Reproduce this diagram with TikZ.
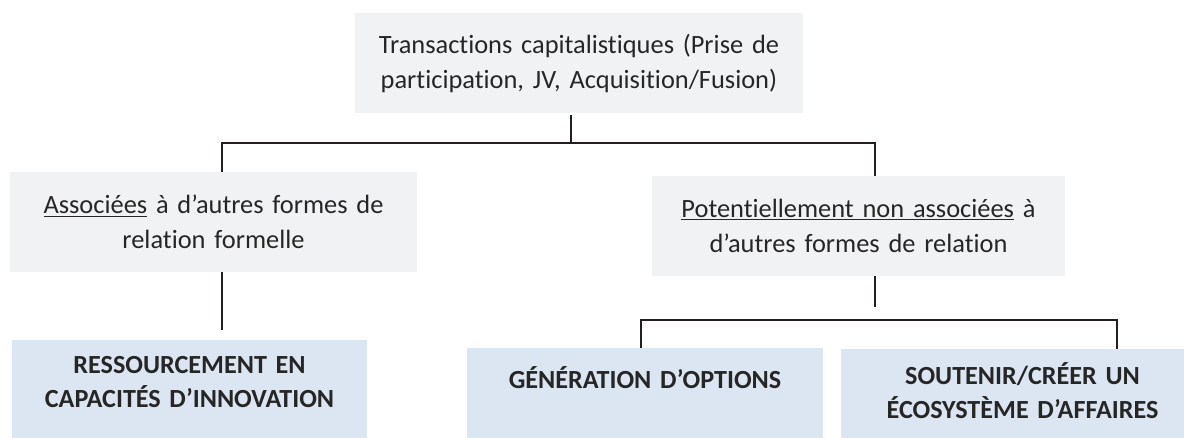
\documentclass[tikz,border=0pt]{standalone}
\usepackage{fontspec}
\setmainfont{Carlito}[Ligatures=NoCommon, WordSpace=0.85]
\usepackage{tikz}

\definecolor{boxgrey}{HTML}{F1F2F4}
\definecolor{boxblue}{HTML}{DCE6F2}
\definecolor{inkcol}{HTML}{262626}
\definecolor{linecol}{HTML}{231F20}

\tikzset{
	greybox/.style={fill=boxgrey, text=inkcol, align=center, inner sep=0pt,
		minimum height=75pt, font=\fontsize{19.8}{26.25}\selectfont},
	bluebox/.style={fill=boxblue, text=inkcol, align=center, inner sep=0pt, anchor=north,
		text depth=68pt, font=\bfseries\fontsize{19.6}{25.5}\selectfont},
	link/.style={draw=linecol, line width=1.3pt},
}

\begin{document}
\begin{tikzpicture}[x=0.75pt, y=-0.75pt]
	\clip (0,0) rectangle (1184,438);
	% boxes
	\node[greybox, text width=336pt] (trans) at (579,63) {Transactions capitalistiques (Prise de\\participation, JV, Acquisition/Fusion)};
	\node[greybox, text width=305.25pt] (assoc) at (213.5,222) {\underline{Associées} à d’autres formes de\\relation formelle};
	\node[greybox, text width=309.75pt] (potent) at (858.5,226) {\underline{Potentiellement non associées} à\\d’autres formes de relation};
	\node[bluebox, text width=266.25pt, text height=24.75pt] (ressource) at (189.5,340) {RESSOURCEMENT EN\\CAPACITÉS D’INNOVATION};
	\node[bluebox, text width=267pt, text height=30pt] (gener) at (645,348) {GÉNÉRATION D’OPTIONS};
	\node[bluebox, text width=272.25pt, text height=26.25pt] (soutien) at (1022.5,349) {SOUTENIR/CRÉER UN\\ÉCOSYSTÈME D’AFFAIRES};
	% junctions
	\coordinate (jt) at (571,143);
	\coordinate (jl) at (222,143);
	\coordinate (jr) at (875,143);
	\coordinate (kl) at (641,320);
	\coordinate (kr) at (1117,320);
	% connectors
	\draw[link] ([yshift=-1.5pt]jt |- trans.south) -- (jt);
	\draw[link] (jl |- assoc.north) -- (jl) -- (jr) -- (jr |- potent.north);
	\draw[link] (jl |- assoc.south) -- ([yshift=7.5pt]jl |- ressource.north);
	\draw[link] (jr |- potent.south) -- ([yshift=9.75pt]jr |- kl);
	\draw[link] (kl |- gener.north) -- (kl) -- (kr) -- (kr |- soutien.north);
\end{tikzpicture}
\end{document}
